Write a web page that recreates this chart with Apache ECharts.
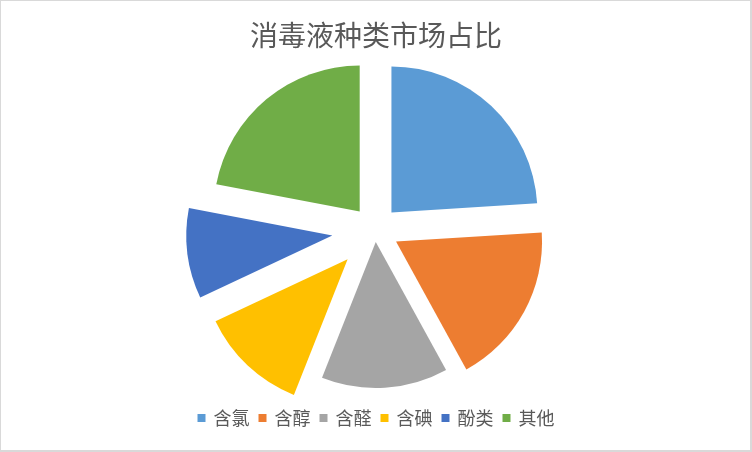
<!DOCTYPE html>
<html><head><meta charset="utf-8">
<script src="https://cdn.jsdelivr.net/npm/echarts@6/dist/echarts.min.js"></script>
<style>
html,body{margin:0;padding:0;background:#fff;}
#c{position:absolute;left:0;top:0;width:752px;height:452px;}
#b{position:absolute;left:0;top:0;width:749px;height:449px;border-style:solid;border-color:#d9d9d9;border-width:1px 2px 2px 1px;pointer-events:none;}
</style>
</head><body><div id="c"></div><div id="b"></div>
<script>
const chartTitle = '消毒液种类市场占比';
const categories = ['含氯', '含醇', '含醛', '含碘', '酚类', '其他'];
const shares = [24, 18, 14, 12, 10, 22];

// styles (not data)
const colors = ['#5B9BD5', '#ED7D31', '#A5A5A5', '#FFC000', '#4472C4', '#70AD47'];
const explodeOffsets = [24, 24, 12, 40, 43, 24];
const FONT = '"Noto Sans CJK SC", "Noto Sans", sans-serif';

const chart = echarts.init(document.getElementById('c'), null, {renderer: 'canvas'});

const series = categories.map((cat, i) => ({
  type: 'pie',
  name: cat,
  radius: 146,
  center: [375, 230],
  startAngle: 90,
  clockwise: true,
  selectedMode: 'multiple',
  selectedOffset: explodeOffsets[i],
  silent: true,
  animation: false,
  label: {show: false},
  labelLine: {show: false},
  emphasis: {disabled: true},
  select: {itemStyle: {}},
  itemStyle: {borderWidth: 0},
  data: categories.map((n, j) => ({
    name: n,
    value: shares[j],
    selected: j === i,
    itemStyle: {color: j === i ? colors[j] : 'rgba(0,0,0,0)', borderWidth: 0}
  }))
}));

chart.setOption({
  backgroundColor: '#ffffff',
  animation: false,
  title: {
    text: chartTitle,
    left: 'center',
    top: 16,
    textStyle: {fontSize: 28, fontWeight: 'normal', color: '#595959', fontFamily: FONT}
  },
  legend: {
    bottom: 20,
    left: 'center',
    icon: 'rect',
    itemWidth: 8,
    itemHeight: 8,
    itemGap: 9,
    selectedMode: false,
    textStyle: {fontSize: 18, color: '#595959', fontFamily: FONT, padding: [0, 0, 0, 3]},
    data: categories.map((n, j) => ({name: n, itemStyle: {color: colors[j], opacity: 1, borderWidth: 0}}))
  },
  series: series
});
</script>
</body></html>
